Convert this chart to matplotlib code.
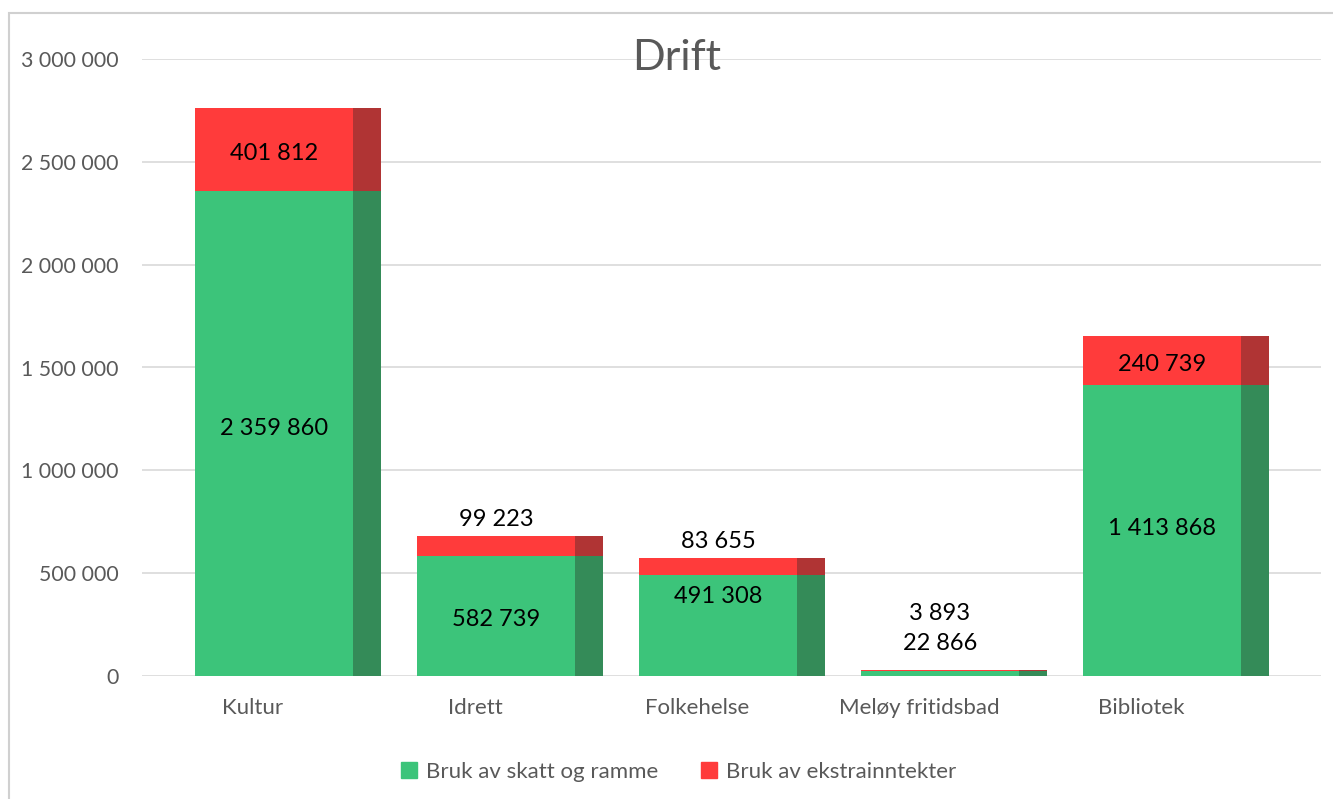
import matplotlib.pyplot as plt
import numpy as np
from matplotlib.patches import Rectangle, Patch
from matplotlib.ticker import FuncFormatter

plt.rcParams['font.family'] = ['Lato', 'DejaVu Sans']

categories = ['Kultur', 'Idrett', 'Folkehelse', 'Meløy fritidsbad', 'Bibliotek']
skatt = [2359860, 582739, 491308, 22866, 1413868]
ekstra = [401812, 99223, 83655, 3893, 240739]
series_names = ['Bruk av skatt og ramme', 'Bruk av ekstrainntekter']

# label nudges in pixels (up), Excel labels were moved by hand
skatt_nudge = [5, -3, 29, 30, 2]
ekstra_nudge = [-4, 26, 25, 57, -4]

green, green_side = '#3cc47a', '#348b58'
red, red_side = '#ff3b3b', '#b03434'
grey = '#595959'

fig = plt.figure(figsize=(13.33, 7.99), dpi=100)
ax = fig.add_axes([142/1333, 1-676/799, (1321-142)/1333, (676-59)/799])

x = np.arange(len(categories))
fw, sw = 0.712, 0.126
skatt = np.array(skatt)
ekstra = np.array(ekstra)

ax.bar(x - fw/2, skatt, width=fw, align='edge', color=green, zorder=3)
ax.bar(x + fw/2, skatt, width=sw, align='edge', color=green_side, zorder=3)
ax.bar(x - fw/2, ekstra, bottom=skatt, width=fw, align='edge', color=red, zorder=3)
ax.bar(x + fw/2, ekstra, bottom=skatt, width=sw, align='edge', color=red_side, zorder=3)

def fmt(v):
    return f'{int(v):,}'.replace(',', ' ')

for i in range(len(categories)):
    ax.annotate(fmt(skatt[i]), (x[i], skatt[i]/2), xytext=(0, skatt_nudge[i]*0.72),
                textcoords='offset points', ha='center', va='center', fontsize=17, color='black', zorder=5)
    ax.annotate(fmt(ekstra[i]), (x[i], skatt[i] + ekstra[i]/2), xytext=(0, ekstra_nudge[i]*0.72),
                textcoords='offset points', ha='center', va='center', fontsize=17, color='black', zorder=5)

ax.set_xlim(-0.595, 4.716)
ax.set_ylim(0, 3000000)
ax.set_yticks(np.arange(0, 3000001, 500000))
ax.yaxis.set_major_formatter(FuncFormatter(lambda v, p: fmt(v)))
ax.set_xticks(x - 0.095)
ax.set_xticklabels(categories)
ax.tick_params(axis='both', length=0, colors=grey, labelsize=15.3)
ax.tick_params(axis='x', labelsize=16, pad=16)
ax.tick_params(axis='y', pad=17)
ax.grid(axis='y', color='#d9d9d9', linewidth=1.2, zorder=0)
for s in ax.spines.values():
    s.set_visible(False)

fig.text(0.5075, 1-58/799, 'Drift', ha='center', va='center', fontsize=31, color=grey, zorder=6)

handles = [Patch(color=green), Patch(color=red)]
fig.legend(handles, series_names, loc='center', bbox_to_anchor=(0.509, 1-772/799), ncol=2,
           frameon=False, fontsize=16, labelcolor=grey, handlelength=0.75, handleheight=0.75,
           handletextpad=0.4, columnspacing=1.9)

fig.patches.append(Rectangle((8.5/1333, -0.05), 1.1, 1-13/799+0.05, transform=fig.transFigure,
                             fill=False, edgecolor='#d0d0d0', linewidth=1.5))

fig.savefig('out.png', dpi=100)
